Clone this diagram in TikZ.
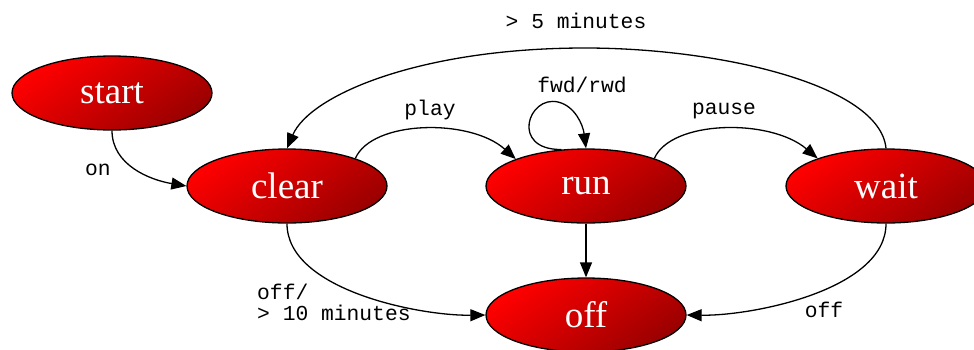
\documentclass[tikz,border=0pt]{standalone}
\usepackage{fontspec}
\setmainfont{Liberation Serif}
\newfontfamily\monofont{Liberation Mono}
\usetikzlibrary{shapes.geometric,arrows.meta}
\definecolor{brightred}{HTML}{FF0000}
\definecolor{darkred}{HTML}{9A0000}
\tikzset{
  state/.style={ellipse, draw=black, line width=1.3pt, minimum width=200pt, minimum height=74pt,
    inner sep=0pt, top color=brightred, bottom color=darkred, shading angle=35,
    text=white, font=\fontsize{37}{37}\selectfont},
  edge/.style={line width=1.3pt, -{Triangle[length=15pt,width=12pt]}},
  lbl/.style={font=\monofont\fontsize{21.3}{21}\selectfont, inner sep=0pt}
}
\begin{document}
\begin{tikzpicture}[x=1pt,y=1pt]
\useasboundingbox (0,0) rectangle (974,-349);
\fill[white] (0,0) rectangle (974,-349);
\node[state] (start) at (112,-93) {start};
\node[state] (clear) at (287,-186) {clear};
\node[state] (run) at (586,-186) {run};
\node[state] (wait) at (886,-186) {wait};
\node[state] (off) at (586,-315) {off};

\draw[edge] (start.south) .. controls (112,-165) and (150,-180) .. (clear.west);
\draw[edge] (clear.22) .. controls (372,-120) and (470,-118) .. (run.159);
\draw[edge] (run.124) .. controls (510,-150) and (528,-95) .. (558,-102) .. controls (575,-106) and (583,-125) .. (run.north);
\draw[edge] (run.22) .. controls (671,-120) and (770,-118) .. (wait.158);
\draw[edge] (wait.north) .. controls (880,-85) and (720,-48) .. (585,-48) .. controls (420,-48) and (310,-95) .. (clear.north);
\draw[edge] (clear.south) .. controls (287,-290) and (420,-316) .. (off.west);
\draw[edge] (run.south) -- (off.north);
\draw[edge] (wait.south) .. controls (886,-290) and (752,-316) .. (off.east);

\node[lbl] (lon) at (98,-170) {on};
\node[lbl] (lplay) at (430,-110) {play};
\node[lbl] (lfwd) at (582,-85) {fwd/rwd};
\node[lbl] (lpause) at (724,-111) {pause};
\node[lbl] (lfive) at (576,-21) {> 5 minutes};
\node[lbl, anchor=west, align=left] (lten) at (257,-302) {off/\\> 10 minutes};
\node[lbl] (loff) at (824,-310) {off};
\end{tikzpicture}
\end{document}
